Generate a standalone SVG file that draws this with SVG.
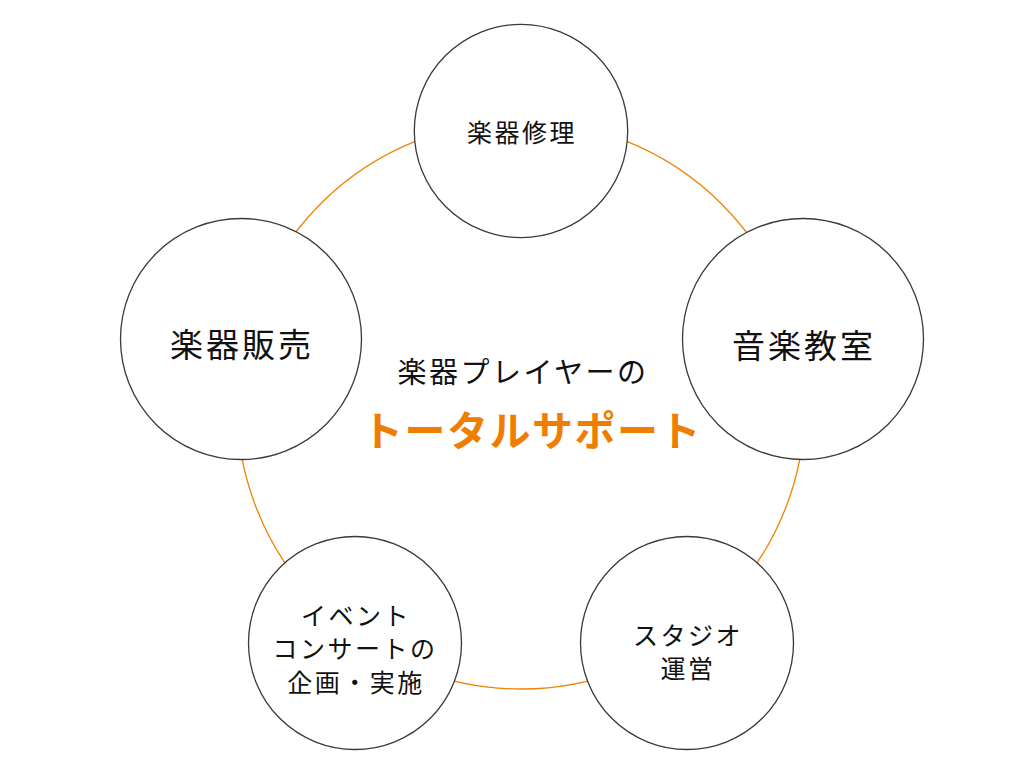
<svg xmlns="http://www.w3.org/2000/svg" width="1032" height="774" viewBox="0 0 1032 774">
<style>
.node{fill:#fff;stroke:#3a3a3a;stroke-width:1.3}
.ring{fill:none;stroke:#F08300;stroke-width:1.3}
text{font-family:"Noto Sans CJK JP","Noto Sans",sans-serif;fill:#111;text-anchor:middle;dominant-baseline:central}
.s{font-size:25px;letter-spacing:2.5px}
.l{font-size:33px;letter-spacing:3px}
.c{font-size:29px;letter-spacing:2.5px}
.t{font-size:41px;font-weight:bold;fill:#EF7D00;letter-spacing:1.5px}
</style>
<rect width="1032" height="774" fill="#fff"/>
<g id="connectors">
<circle class="ring" cx="521" cy="405" r="284"/>
</g>
<g id="center">
<text class="c" x="523" y="370">楽器プレイヤーの</text>
<text class="t" x="532" y="428">トータルサポート</text>
</g>
<g id="repair">
<circle class="node" cx="521" cy="131" r="106.7"/>
<text class="s" x="522" y="131">楽器修理</text>
</g>
<g id="sales">
<circle class="node" cx="241" cy="339" r="120.5"/>
<text class="l" x="242" y="343">楽器販売</text>
</g>
<g id="school">
<circle class="node" cx="803" cy="339" r="120.5"/>
<text class="l" x="804" y="344">音楽教室</text>
</g>
<g id="event">
<circle class="node" cx="355" cy="643" r="106.5"/>
<text class="s" x="356" y="614">イベント</text>
<text class="s" x="355" y="647">コンサートの</text>
<text class="s" x="356" y="681">企画・実施</text>
</g>
<g id="studio">
<circle class="node" cx="687" cy="643" r="106.5"/>
<text class="s" x="688" y="634">スタジオ</text>
<text class="s" x="688" y="667">運営</text>
</g>
</svg>
